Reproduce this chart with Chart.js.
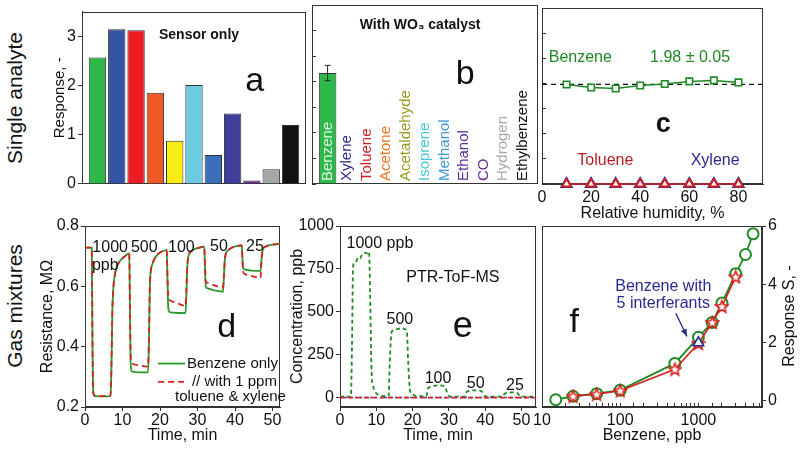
<!DOCTYPE html>
<html>
<head>
<meta charset="utf-8">
<script src="https://cdn.jsdelivr.net/npm/chart.js@4.4.1/dist/chart.umd.min.js"></script>
<style>
  body { margin: 0; background: #fff; }
  #wrap { position: relative; width: 800px; height: 450px; overflow: hidden; font-family: 'Liberation Sans', Arial, sans-serif; }
  #wrap canvas { position: absolute; left: 0; top: 0; }
  .side { position: absolute; left: 15px; font-size: 21px; color: #111; white-space: nowrap; transform: translate(-50%, -50%) rotate(-90deg); }
</style>
</head>
<body>
<div id="wrap">
  <div class="side" style="top:98px">Single analyte</div>
  <div class="side" style="top:306px">Gas mixtures</div>
  <canvas id="chartA" width="800" height="450"></canvas>
  <canvas id="chartB" width="800" height="450"></canvas>
  <canvas id="chartC" width="800" height="450"></canvas>
  <canvas id="chartD" width="800" height="450"></canvas>
  <canvas id="chartE" width="800" height="450"></canvas>
  <canvas id="chartF" width="800" height="450"></canvas>
</div>
<script>
// ---- data ----
const analytes = ['Benzene', 'Xylene', 'Toluene', 'Acetone', 'Acetaldehyde', 'Isoprene', 'Methanol', 'Ethanol', 'CO', 'Hydrogen', 'Ethylbenzene'];
const sensorOnly = [2.57, 3.14, 3.12, 1.85, 0.88, 2.01, 0.59, 1.43, 0.07, 0.30, 1.20];
const withCatalyst = [2.17, 0, 0, 0, 0, 0, 0, 0, 0, 0, 0];
const catalystErr = [0.15, 0, 0, 0, 0, 0, 0, 0, 0, 0, 0];
const barColors = ['#2db84a', '#3453a5', '#ed1c24', '#f15a24', '#f7ec13', '#6dcbe0', '#3b6fba', '#3f3f9b', '#6d2c91', '#a6a6a6', '#111111'];
const labelColors = ['#e8f6e8', '#2b2b8c', '#d0202a', '#ee7420', '#9a9a20', '#45c8d4', '#3b98d8', '#5a2d9a', '#6a2a9a', '#a8a8a8', '#111111'];
const responseTicks = [0, 1, 2, 3];
const responseMinor = [0, 0.5, 1, 1.5, 2, 2.5, 3];

const rh = [10, 20, 30, 40, 50, 60, 70, 80];
const rhBenzene = [1.98, 1.92, 1.90, 1.96, 1.99, 2.04, 2.06, 2.02];
const rhToluene = [0, 0, 0, 0, 0, 0, 0, 0];
const rhXylene = [0, 0, 0, 0, 0, 0, 0, 0];
const benzeneMean = 1.98;
const rhRange = [0, 90];
const rhTicks = [0, 20, 40, 60, 80];

const dTime = [0, 1.8, 2.0, 2.2, 2.5, 4.5, 6.8, 7.0, 7.3, 7.6, 8.0, 8.5, 9.0, 10.0, 11.0, 11.8,
  12.0, 12.2, 12.5, 14.5, 16.8, 17.0, 17.3, 17.6, 18.0, 18.5, 19.0, 20.0, 21.0, 21.8,
  22.0, 22.2, 22.5, 24.5, 26.8, 27.0, 27.3, 27.6, 28.0, 28.5, 29.0, 30.0, 31.0, 31.8,
  32.0, 32.2, 32.5, 34.5, 36.8, 37.0, 37.3, 37.6, 38.0, 38.5, 39.0, 40.0, 41.0, 41.8,
  42.0, 42.2, 42.5, 44.5, 46.8, 47.0, 47.3, 47.6, 48.0, 48.5, 49.0, 50.0, 51.0, 52.0];
const dBenzene = [0.728, 0.728, 0.40, 0.25, 0.237, 0.235, 0.236, 0.30, 0.52, 0.60, 0.64, 0.665, 0.678, 0.693, 0.703, 0.71,
  0.50, 0.34, 0.318, 0.315, 0.315, 0.38, 0.60, 0.655, 0.675, 0.69, 0.70, 0.712, 0.718, 0.72,
  0.62, 0.53, 0.515, 0.512, 0.511, 0.56, 0.67, 0.70, 0.712, 0.718, 0.722, 0.727, 0.73, 0.732,
  0.66, 0.60, 0.594, 0.587, 0.582, 0.62, 0.69, 0.71, 0.718, 0.723, 0.727, 0.732, 0.735, 0.736,
  0.69, 0.66, 0.656, 0.652, 0.651, 0.68, 0.715, 0.726, 0.731, 0.734, 0.736, 0.738, 0.74, 0.741];
const dMixture = [0.728, 0.728, 0.40, 0.25, 0.238, 0.236, 0.237, 0.30, 0.52, 0.60, 0.64, 0.665, 0.678, 0.693, 0.703, 0.71,
  0.52, 0.36, 0.345, 0.338, 0.334, 0.40, 0.60, 0.655, 0.675, 0.69, 0.70, 0.712, 0.718, 0.72,
  0.63, 0.565, 0.555, 0.545, 0.535, 0.58, 0.67, 0.70, 0.712, 0.718, 0.722, 0.727, 0.73, 0.732,
  0.67, 0.615, 0.612, 0.603, 0.596, 0.63, 0.69, 0.71, 0.718, 0.723, 0.727, 0.732, 0.735, 0.736,
  0.68, 0.648, 0.642, 0.634, 0.628, 0.67, 0.715, 0.726, 0.731, 0.734, 0.736, 0.738, 0.74, 0.741];
const timeTicks = [0, 10, 20, 30, 40, 50];
const resistanceTicks = [0.2, 0.4, 0.6, 0.8];

const eTime = [0, 3.0, 3.3, 3.6, 4.0, 4.5, 5.0, 5.5, 6.0, 6.5, 7.0, 7.5, 8.0, 8.3, 8.7, 9.2, 10, 11, 12.5,
  13.4, 13.7, 14.2, 15, 16, 17, 18, 18.4, 18.8, 19.3, 20, 21,
  23.8, 24.2, 24.8, 26, 27, 28, 29, 29.6, 30.2, 31,
  34.3, 34.8, 35.5, 37, 38.5, 39.3, 39.8, 41,
  44.8, 45.3, 46, 47.5, 48.8, 49.3, 50, 54];
const eBenzene = [5, 5, 300, 760, 790, 795, 815, 810, 830, 835, 845, 840, 850, 600, 150, 60, 25, 12, 8,
  8, 200, 380, 395, 400, 405, 398, 390, 200, 40, 18, 8,
  8, 50, 62, 68, 72, 70, 62, 20, 8, 5,
  5, 30, 38, 42, 40, 30, 10, 5,
  5, 22, 27, 30, 28, 15, 5, 5];
const eFlatTime = [0, 54];
const eToluene = [0, 0];
const eXylene = [0, 0];
const concTicks = [0, 250, 500, 750, 1000];

const fConc = [15, 25, 50, 100, 500, 1000, 1500, 2000, 3000, 4000, 5000];
const fBenzene = [0.02, 0.14, 0.23, 0.35, 1.27, 2.17, 2.68, 3.35, 4.36, 5.02, 5.73];
const fMixConc = [25, 50, 100, 500, 1000, 1500, 2000, 3000];
const fMixture = [0.14, 0.21, 0.33, 1.07, 1.96, 2.68, 3.23, 4.25];
const fFiveConc = [1000];
const fFive = [1.98];
const fLabelTicks = [10, 100, 1000];
const fResponseTicks = [0, 2, 4, 6];

// ---- look ----
const FONT = "'Liberation Sans', Arial, sans-serif";
const GREEN = '#1f8a24', RED = '#d8201e', BLUE = '#2a2a90', INK = '#111';
Chart.defaults.font.family = FONT;
Chart.defaults.font.size = 16;
Chart.defaults.color = INK;
Chart.defaults.animation = false;
Chart.defaults.plugins.legend.display = false;
Chart.defaults.plugins.tooltip.enabled = false;

// plot rectangles on the page (left, top, right, bottom)
const PA = {l: 82, t: 5, r: 306, b: 184};
const PB = {l: 312, t: 5, r: 538, b: 184};
const PC = {l: 542, t: 5, r: 763, b: 184};
const PD = {l: 85, t: 226, r: 280, b: 407};
const PE = {l: 340, t: 226, r: 536, b: 407};
const PF = {l: 542, t: 226, r: 762, b: 407};

function pad(P, leftW, rightW, bottomH) {
  return {left: P.l - leftW, top: P.t, right: 800 - P.r - rightW, bottom: 450 - P.b - bottomH};
}
const pts = (xs, ys) => xs.map((x, i) => ({x: x, y: ys[i]}));
const fixed = list => s => { s.ticks = list.map(v => ({value: v})); };
const plain = v => String(v);

const frame = {
  id: 'frame',
  beforeDatasetsDraw(chart) {
    const a = chart.chartArea, ctx = chart.ctx;
    ctx.save();
    ctx.strokeStyle = '#333';
    ctx.lineWidth = 1;
    ctx.strokeRect(Math.round(a.left) + 0.5, Math.round(a.top) + 0.5, Math.round(a.right - a.left) - 1, Math.round(a.bottom - a.top) - 1);
    ctx.restore();
  }
};

// text and small drawn notes, positioned in data units
function notes(items) {
  return {
    id: 'notes',
    afterDatasetsDraw(chart) {
      const ctx = chart.ctx, xs = chart.scales.x, ys = chart.scales.y;
      const px = p => [xs.getPixelForValue(p[0]), ys.getPixelForValue(p[1])];
      items.forEach(it => {
        ctx.save();
        if (it.line) {
          const a = px(it.line[0]), b = px(it.line[1]);
          ctx.strokeStyle = it.color || INK;
          ctx.lineWidth = it.width || 1.8;
          ctx.setLineDash(it.dash || []);
          ctx.beginPath(); ctx.moveTo(a[0], a[1]); ctx.lineTo(b[0], b[1]); ctx.stroke();
          if (it.head) {
            const ang = Math.atan2(b[1] - a[1], b[0] - a[0]);
            ctx.fillStyle = it.color;
            ctx.beginPath();
            ctx.moveTo(b[0], b[1]);
            ctx.lineTo(b[0] - 8 * Math.cos(ang - 0.4), b[1] - 8 * Math.sin(ang - 0.4));
            ctx.lineTo(b[0] - 8 * Math.cos(ang + 0.4), b[1] - 8 * Math.sin(ang + 0.4));
            ctx.closePath(); ctx.fill();
          }
        } else {
          const p = it.abs ? it.abs : px(it.at);
          ctx.translate(p[0], p[1] + (it.dy || 0));
          ctx.rotate(it.rot || 0);
          ctx.font = it.font || ('16px ' + FONT);
          ctx.fillStyle = it.color || INK;
          ctx.textAlign = it.align || 'center';
          ctx.textBaseline = 'middle';
          ctx.fillText(it.text, 0, 0);
        }
        ctx.restore();
      });
    }
  };
}

function errorBars(values, errs) {
  return {
    id: 'errorBars',
    afterDatasetsDraw(chart) {
      const ctx = chart.ctx, xs = chart.scales.x, ys = chart.scales.y;
      ctx.save();
      ctx.strokeStyle = '#222';
      ctx.lineWidth = 1;
      values.forEach((v, i) => {
        if (!errs[i]) return;
        const x = xs.getPixelForValue(i), y1 = ys.getPixelForValue(v - errs[i]), y2 = ys.getPixelForValue(v + errs[i]);
        ctx.beginPath();
        ctx.moveTo(x, y1); ctx.lineTo(x, y2);
        ctx.moveTo(x - 3, y1); ctx.lineTo(x + 3, y1);
        ctx.moveTo(x - 3, y2); ctx.lineTo(x + 3, y2);
        ctx.stroke();
      });
      ctx.restore();
    }
  };
}

function starImage(color) {
  const c = document.createElement('canvas');
  c.width = 15; c.height = 15;
  const g = c.getContext('2d');
  g.beginPath();
  for (let k = 0; k < 10; k++) {
    const r = k % 2 ? 2.8 : 6.4, a = -Math.PI / 2 + k * Math.PI / 5;
    g.lineTo(7.5 + r * Math.cos(a), 8 + r * Math.sin(a));
  }
  g.closePath();
  g.fillStyle = '#fff'; g.fill();
  g.strokeStyle = color; g.lineWidth = 1.6; g.stroke();
  return c;
}

const axisLine = {color: '#333'};
const tickGrid = len => ({drawOnChartArea: false, drawTicks: true, tickLength: len, color: '#333'});

// ---- a: sensor only ----
new Chart(document.getElementById('chartA'), {
  type: 'bar',
  data: {datasets: [{
    data: pts(analytes.map((n, i) => i), sensorOnly),
    backgroundColor: barColors, borderColor: '#333', borderWidth: 1,
    barPercentage: 0.9, categoryPercentage: 1
  }]},
  options: {
    responsive: false,
    layout: {padding: pad(PA, 31, 0, 0)},
    scales: {
      x: {type: 'linear', min: -0.8, max: 10.8, offset: false, display: false},
      y: {
        min: 0, max: 3.5,
        afterFit: s => { s.width = 31; },
        afterBuildTicks: fixed(responseTicks),
        border: axisLine, grid: tickGrid(4),
        ticks: {padding: 2, callback: plain},
        title: {display: true, text: 'Response, -', font: {size: 15}, padding: 0}
      }
    }
  },
  plugins: [frame, notes([
    {at: [5.26, 3.03], text: 'Sensor only', font: 'bold 14px ' + FONT},
    {at: [8.15, 2.07], text: 'a', font: '34px ' + FONT}
  ])]
});

// ---- b: with WO3 catalyst ----
new Chart(document.getElementById('chartB'), {
  type: 'bar',
  data: {datasets: [{
    data: pts(analytes.map((n, i) => i), withCatalyst),
    backgroundColor: barColors[0], borderColor: '#333',
    borderWidth: withCatalyst.map(v => v > 0 ? 1 : 0),
    barPercentage: 0.9, categoryPercentage: 1
  }]},
  options: {
    responsive: false,
    layout: {padding: pad(PB, 0, 0, 0)},
    scales: {
      x: {type: 'linear', min: -0.8, max: 10.8, offset: false, display: false},
      y: {
        min: 0, max: 3.5,
        afterFit: s => { s.width = 0; },
        afterBuildTicks: fixed(responseMinor),
        border: axisLine, grid: tickGrid(-4),
        ticks: {display: false}
      }
    }
  },
  plugins: [frame, errorBars(withCatalyst, catalystErr), notes([
    {at: [4.75, 3.1], text: 'With WO\u2083 catalyst', font: 'bold 14px ' + FONT},
    {at: [7.06, 2.13], text: 'b', font: '34px ' + FONT}
  ].concat(analytes.map((n, i) => ({
    at: [i, 0], dy: -3, rot: -Math.PI / 2, align: 'left', text: n, color: labelColors[i], font: '15px ' + FONT
  }))))]
});

// ---- c: humidity ----
new Chart(document.getElementById('chartC'), {
  type: 'line',
  data: {datasets: [
    {data: pts(rh, rhToluene), borderColor: RED, borderWidth: 1.5, pointStyle: 'triangle', pointRadius: 5,
      pointBackgroundColor: '#fff', pointBorderColor: RED, pointBorderWidth: 1.8, clip: false, order: 1},
    {data: pts(rh, rhXylene), borderColor: BLUE, borderWidth: 1.5, pointStyle: 'triangle', pointRadius: 6.5,
      pointBackgroundColor: BLUE, pointBorderColor: BLUE, clip: false, order: 2},
    {data: pts(rh, rhBenzene), borderColor: GREEN, borderWidth: 1.5, pointStyle: 'rect', pointRadius: 4.6,
      pointBackgroundColor: '#fff', pointBorderColor: GREEN, pointBorderWidth: 1.6, order: 0},
    {data: pts(rhRange, [benzeneMean, benzeneMean]), borderColor: INK, borderWidth: 1.3, borderDash: [5, 4],
      pointRadius: 0, order: 3}
  ]},
  options: {
    responsive: false,
    layout: {padding: pad(PC, 0, 0, 39)},
    scales: {
      x: {
        type: 'linear', min: 0, max: 90,
        afterFit: s => { s.height = 39; },
        afterBuildTicks: fixed(rhTicks),
        border: axisLine, grid: tickGrid(-4),
        ticks: {padding: 8, maxRotation: 0, callback: plain},
        title: {display: true, text: 'Relative humidity, %', padding: 0}
      },
      y: {
        min: 0, max: 3.5,
        afterFit: s => { s.width = 0; },
        afterBuildTicks: fixed(responseMinor),
        border: axisLine, grid: tickGrid(-4),
        ticks: {display: false}
      }
    }
  },
  plugins: [frame, notes([
    {at: [15.6, 2.52], text: 'Benzene', color: GREEN},
    {at: [60.3, 2.52], text: '1.98 \u00b1 0.05', color: GREEN},
    {at: [49.4, 1.19], text: 'c', font: 'bold 27px ' + FONT},
    {at: [25.8, 0.47], text: 'Toluene', color: '#b81c22'},
    {at: [70.5, 0.47], text: 'Xylene', color: BLUE}
  ])]
});

// ---- d: sensor resistance ----
new Chart(document.getElementById('chartD'), {
  type: 'line',
  data: {datasets: [
    {data: pts(dTime, dMixture), borderColor: RED, borderWidth: 1.8, borderDash: [6, 4], pointRadius: 0,
      cubicInterpolationMode: 'monotone'},
    {data: pts(dTime, dBenzene), borderColor: '#2a9a2a', borderWidth: 1.8, pointRadius: 0,
      cubicInterpolationMode: 'monotone'}
  ]},
  options: {
    responsive: false,
    layout: {padding: pad(PD, 47, 0, 38)},
    scales: {
      x: {
        type: 'linear', min: 0, max: 52,
        afterFit: s => { s.height = 38; },
        afterBuildTicks: fixed(timeTicks),
        border: axisLine, grid: tickGrid(4),
        ticks: {padding: 0, maxRotation: 0, callback: plain},
        title: {display: true, text: 'Time, min', padding: 0}
      },
      y: {
        min: 0.2, max: 0.8,
        afterFit: s => { s.width = 47; },
        afterBuildTicks: fixed(resistanceTicks),
        border: axisLine, grid: tickGrid(4),
        ticks: {padding: 2, callback: plain},
        title: {display: true, text: 'Resistance, M\u03a9', padding: 0}
      }
    }
  },
  plugins: [frame, notes([
    {at: [6.7, 0.727], text: '1000'},
    {at: [5.4, 0.67], text: 'ppb'},
    {at: [15.8, 0.727], text: '500'},
    {at: [25.7, 0.727], text: '100'},
    {at: [35.7, 0.731], text: '50'},
    {at: [45.3, 0.731], text: '25'},
    {at: [37.8, 0.464], text: 'd', font: '34px ' + FONT},
    {line: [[19.5, 0.344], [26.7, 0.344]], color: '#2a9a2a'},
    {at: [27.2, 0.344], text: 'Benzene only', align: 'left', font: '15px ' + FONT},
    {line: [[19.5, 0.283], [26.7, 0.283]], color: RED, dash: [6, 4]},
    {at: [28.5, 0.283], text: '// with 1 ppm', align: 'left', font: '15px ' + FONT},
    {at: [24.0, 0.233], text: 'toluene & xylene', align: 'left', font: '15px ' + FONT}
  ])]
});

// ---- e: PTR-ToF-MS concentration ----
new Chart(document.getElementById('chartE'), {
  type: 'line',
  data: {datasets: [
    {data: pts(eFlatTime, eToluene), borderColor: RED, borderWidth: 1.8, borderDash: [5, 3], pointRadius: 0},
    {data: pts(eFlatTime, eXylene), borderColor: '#3344bb', borderWidth: 1.5, borderDash: [2, 3], pointRadius: 0},
    {data: pts(eTime, eBenzene), borderColor: GREEN, borderWidth: 1.8, borderDash: [4, 3], pointRadius: 0,
      cubicInterpolationMode: 'monotone'}
  ]},
  options: {
    responsive: false,
    layout: {padding: pad(PE, 52, 0, 38)},
    scales: {
      x: {
        type: 'linear', min: 0, max: 54,
        afterFit: s => { s.height = 38; },
        afterBuildTicks: fixed(timeTicks),
        border: axisLine, grid: tickGrid(4),
        ticks: {padding: 0, maxRotation: 0, callback: plain},
        title: {display: true, text: 'Time, min', padding: 0}
      },
      y: {
        min: -55, max: 1000,
        afterFit: s => { s.width = 52; },
        afterBuildTicks: fixed(concTicks),
        border: axisLine, grid: tickGrid(4),
        ticks: {padding: 2, callback: plain},
        title: {display: true, text: 'Concentration, ppb', padding: 0}
      }
    }
  },
  plugins: [frame, notes([
    {at: [11, 900], text: '1000 ppb'},
    {at: [31.1, 697], text: 'PTR-ToF-MS'},
    {at: [16.5, 457], text: '500'},
    {at: [33.8, 410], text: 'e', font: '36px ' + FONT},
    {at: [27, 113], text: '100'},
    {at: [37.4, 83], text: '50'},
    {at: [48.2, 72], text: '25'}
  ])]
});

// ---- f: calibration with interferants ----
new Chart(document.getElementById('chartF'), {
  type: 'line',
  data: {datasets: [
    {data: pts(fFiveConc, fFive), showLine: false, pointStyle: 'triangle', pointRadius: 6,
      pointBackgroundColor: '#fff', pointBorderColor: BLUE, pointBorderWidth: 1.6, order: 0},
    {data: pts(fMixConc, fMixture), borderColor: RED, borderWidth: 1.6, pointStyle: starImage(RED), order: 1},
    {data: pts(fConc, fBenzene), borderColor: GREEN, borderWidth: 1.8, pointStyle: 'circle', pointRadius: 5.5,
      pointBackgroundColor: '#fff', pointBorderColor: GREEN, pointBorderWidth: 2, clip: false, order: 2}
  ]},
  options: {
    responsive: false,
    layout: {padding: pad(PF, 0, 38, 38)},
    scales: {
      x: {
        type: 'logarithmic', min: 10, max: 6500,
        afterFit: s => { s.height = 38; },
        border: axisLine, grid: tickGrid(-4),
        ticks: {autoSkip: false, maxRotation: 0, padding: 8,
          callback: v => fLabelTicks.includes(v) ? String(v) : ''},
        title: {display: true, text: 'Benzene, ppb', padding: 0}
      },
      y: {
        position: 'right', min: -0.23, max: 6,
        afterFit: s => { s.width = 38; },
        afterBuildTicks: fixed(fResponseTicks),
        border: axisLine, grid: tickGrid(4),
        ticks: {padding: 2, callback: plain}
      }
    }
  },
  plugins: [frame, notes([
    {at: [355, 3.9], text: 'Benzene with', color: BLUE},
    {at: [355, 3.32], text: '5 interferants', color: BLUE},
    {line: [[514, 3.0], [713, 2.2]], color: BLUE, width: 1.3, head: true},
    {at: [25.9, 2.66], text: 'f', font: '34px ' + FONT},
    {abs: [790, 316], rot: -Math.PI / 2, text: 'Response S, -'}
  ])]
});
</script>
</body>
</html>
